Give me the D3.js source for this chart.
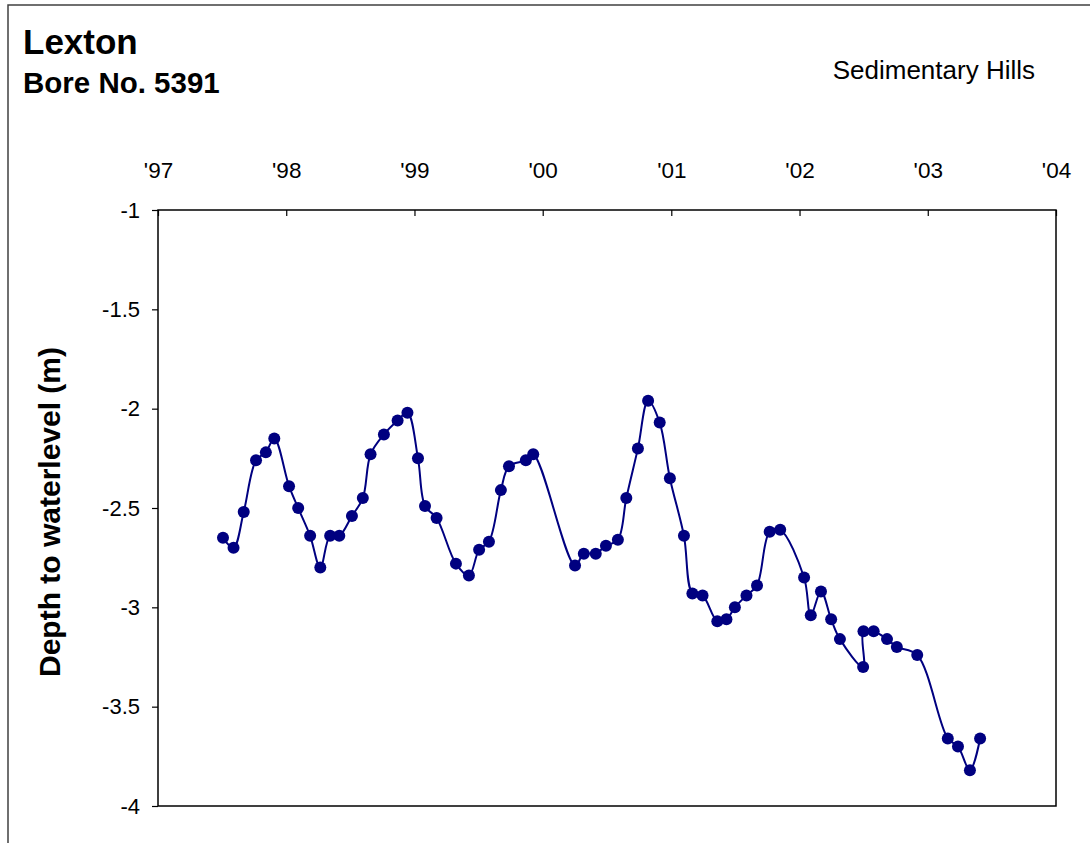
<!DOCTYPE html>
<html>
<head>
<meta charset="utf-8">
<script src="https://cdn.jsdelivr.net/npm/d3@7"></script>
<style>
  html, body { margin: 0; padding: 0; background: #fff; }
  svg { display: block; }
  text { font-family: "Liberation Sans", Arial, sans-serif; fill: #000; }
</style>
</head>
<body>
<svg id="chart" width="1090" height="846"></svg>
<script>
// ---- data ----
const dates = [
  "1997-07-05","1997-08-04","1997-09-02","1997-10-07","1997-11-04","1997-11-28",
  "1998-01-09","1998-02-04","1998-03-10","1998-04-08","1998-05-06","1998-06-01",
  "1998-07-07","1998-08-07","1998-08-29","1998-10-06","1998-11-14","1998-12-12",
  "1999-01-11","1999-01-31","1999-03-05","1999-04-29","1999-06-05","1999-07-04",
  "1999-08-01","1999-09-04","1999-09-27","1999-11-14","1999-12-05",
  "2000-04-02","2000-04-27","2000-05-31","2000-06-29","2000-08-02","2000-08-26",
  "2000-09-28","2000-10-27","2000-11-29","2000-12-28",
  "2001-02-06","2001-03-02","2001-03-31","2001-05-12","2001-06-07","2001-07-01",
  "2001-08-03","2001-09-02","2001-10-08","2001-11-07",
  "2002-01-14","2002-02-02","2002-03-03","2002-04-01","2002-04-26","2002-07-01",
  "2002-07-02","2002-07-31","2002-09-07","2002-10-05","2002-12-02",
  "2003-02-27","2003-03-28","2003-05-01","2003-05-30"
];
const depths = [
  -2.65,-2.70,-2.52,-2.26,-2.22,-2.15,
  -2.39,-2.50,-2.64,-2.80,-2.64,-2.64,
  -2.54,-2.45,-2.23,-2.13,-2.06,-2.02,
  -2.25,-2.49,-2.55,-2.78,-2.84,-2.71,
  -2.67,-2.41,-2.29,-2.26,-2.23,
  -2.79,-2.73,-2.73,-2.69,-2.66,-2.45,
  -2.20,-1.96,-2.07,-2.35,
  -2.64,-2.93,-2.94,-3.07,-3.06,-3.00,
  -2.94,-2.89,-2.62,-2.61,
  -2.85,-3.04,-2.92,-3.06,-3.16,-3.30,
  -3.12,-3.12,-3.16,-3.20,-3.24,
  -3.66,-3.70,-3.82,-3.66
];
const yearTicks = [1997,1998,1999,2000,2001,2002,2003,2004];
const yearLabels = ["'97","'98","'99","'00","'01","'02","'03","'04"];
const depthTicks = [-1,-1.5,-2,-2.5,-3,-3.5,-4];
const depthLabels = ["-1","-1.5","-2","-2.5","-3","-3.5","-4"];
const titleText = "Lexton";
const subtitleText = "Bore No. 5391";
const regionText = "Sedimentary Hills";
const yTitleText = "Depth to waterlevel (m)";

// ---- layout ----
const svg = d3.select("#chart");
const L = 158, R = 1056, T = 210, B = 806;
const parse = d3.timeParse("%Y-%m-%d");
const points = dates.map((d, i) => ({ date: parse(d), v: depths[i] }));

const x = d3.scaleTime()
  .domain([new Date(1997,0,1), new Date(2004,0,1)])
  .range([L, R]);
const y = d3.scaleLinear().domain([-4, -1]).range([B, T]);

// outer frame
svg.append("path")
  .attr("d", "M8,843 V5 H1090")
  .attr("fill", "none")
  .attr("stroke", "#404040")
  .attr("stroke-width", 1.5);

// titles
svg.append("text").attr("x", 23).attr("y", 54)
  .attr("font-size", 35).attr("font-weight", "bold").text(titleText);
svg.append("text").attr("x", 23).attr("y", 93)
  .attr("font-size", 29.5).attr("font-weight", "bold").text(subtitleText);
svg.append("text").attr("x", 1035).attr("y", 79).attr("text-anchor", "end")
  .attr("font-size", 26).text(regionText);

// plot box
svg.append("rect")
  .attr("x", L).attr("y", T).attr("width", R - L).attr("height", B - T)
  .attr("fill", "none").attr("stroke", "#000").attr("stroke-width", 1.5);

// top axis (ticks inside, labels above)
const xTickDates = yearTicks.map(yr => new Date(yr, 0, 1));
const xAxis = d3.axisTop(x)
  .tickValues(xTickDates)
  .tickSize(-6)
  .tickPadding(32)
  .tickFormat((d, i) => yearLabels[i]);
const gx = svg.append("g").attr("transform", `translate(0,${T})`).call(xAxis);
gx.select(".domain").remove();
gx.selectAll(".tick line").attr("stroke", "#000").attr("stroke-width", 1.2);
gx.selectAll(".tick text")
  .attr("font-size", 22.5)
  .attr("font-family", '"Liberation Sans", Arial, sans-serif')
  .attr("fill", "#000");

// left axis
const yAxis = d3.axisLeft(y)
  .tickValues(depthTicks)
  .tickSize(6)
  .tickPadding(12)
  .tickFormat((d, i) => depthLabels[i]);
const gy = svg.append("g").attr("transform", `translate(${L},0)`).call(yAxis);
gy.select(".domain").remove();
gy.selectAll(".tick line").attr("stroke", "#000").attr("stroke-width", 1.2);
gy.selectAll(".tick text")
  .attr("font-size", 22)
  .attr("font-family", '"Liberation Sans", Arial, sans-serif')
  .attr("fill", "#000");

// y title
svg.append("text")
  .attr("transform", `translate(60,${(T + B) / 2 + 4}) rotate(-90)`)
  .attr("text-anchor", "middle")
  .attr("font-size", 30).attr("font-weight", "bold")
  .text(yTitleText);

// series line
const line = d3.line()
  .x(d => x(d.date)).y(d => y(d.v))
  .curve(d3.curveCatmullRom.alpha(0.5));
svg.append("path")
  .datum(points)
  .attr("d", line)
  .attr("fill", "none")
  .attr("stroke", "#000080")
  .attr("stroke-width", 2);

// markers
svg.append("g").selectAll("circle")
  .data(points).join("circle")
  .attr("cx", d => x(d.date)).attr("cy", d => y(d.v))
  .attr("r", 6)
  .attr("fill", "#000080");
</script>
</body>
</html>
